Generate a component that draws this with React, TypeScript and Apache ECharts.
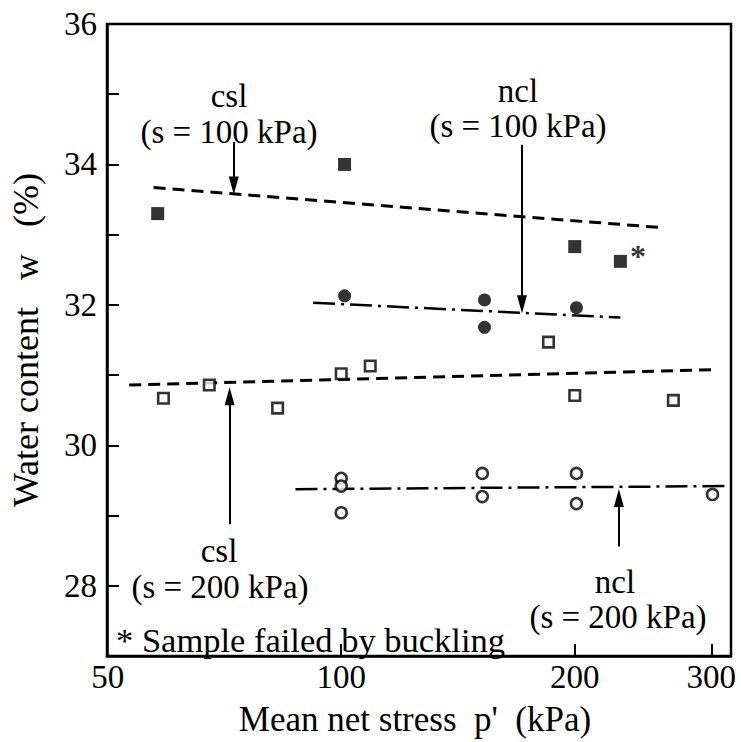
import React, { useEffect, useRef } from 'react';
import * as echarts from 'echarts';

// ---- axis ticks ----
const xLabelValues = [50, 100, 200, 300];
const xTickValues = [100, 200, 300];
const yEvenLabelsOnly = true;

// ---- measured points [p' (kPa), w (%)] ----
const filledSquares = [[58, 33.3], [101, 34.0], [200, 32.83], [229, 32.62]]; // s = 100 kPa, failure
const filledCircles = [[101, 32.13], [153, 32.07], [153, 31.68], [201, 31.96]]; // s = 100 kPa, NC
const openSquares = [[59, 30.67], [67.6, 30.86], [82.8, 30.53], [100, 31.02], [109, 31.13], [185, 31.47], [200, 30.71], [268, 30.64]]; // s = 200 kPa, failure
const openCircles = [[100, 29.53], [100, 29.42], [100, 29.04], [152, 29.6], [152, 29.27], [201, 29.6], [201, 29.17], [301, 29.3]]; // s = 200 kPa, NC

// index of the sample that failed by buckling (filled squares)
const bucklingIndex = 3;

// ---- fitted lines (end points) ----
const cslS100 = [[57.3, 33.67], [259, 33.1]];
const nclS100 = [[92, 32.03], [229, 31.82]];
const cslS200 = [[53.3, 30.86], [305, 31.08]];
const nclS200 = [[87.3, 29.375], [315, 29.42]];

// ---- annotation arrows: x, start w, arrow-head w ----
const arrows = [
  { x: 72.7, from: 34.32, to: 33.7 },
  { x: 171, from: 34.28, to: 32.01 },
  { x: 71.8, from: 28.875, to: 30.7 },
  { x: 228, from: 28.56, to: 29.25 },
];

const FONT = '"Liberation Serif", "Times New Roman", serif';

export default function App() {
  const ref = useRef<HTMLDivElement>(null);
  useEffect(() => {
    if (!ref.current) return;
    const chart = echarts.init(ref.current, null, { renderer: 'svg' });
    const dashed = { color: '#000', width: 3, type: [12, 7] as any };
    const dashDot = { color: '#000', width: 2.5, type: [22, 6, 3, 6] as any };
    const txt = (text: string, x: number, y: number, size = 33, align = 'center') => ({
      type: 'text',
      x,
      y,
      silent: true,
      style: {
        text,
        x: 0,
        y: 0,
        font: `${size}px ${FONT}`,
        fill: '#000',
        align,
        verticalAlign: 'middle',
        textAlign: align,
        textVerticalAlign: 'middle',
      },
    });
    chart.setOption({
      animation: false,
      backgroundColor: '#fff',
      grid: {
        left: 93,
        right: 10,
        top: 24,
        bottom: 69,
        show: true,
        borderColor: '#000',
        borderWidth: 2.5,
        backgroundColor: 'transparent',
      },
      xAxis: {
        type: 'log',
        logBase: 10,
        min: 49.9,
        max: 318,
        name: "Mean net stress  p'  (kPa)",
        nameLocation: 'middle',
        nameGap: 46,
        nameTextStyle: { fontFamily: FONT, fontSize: 35, color: '#000', padding: [0, 8, 0, 0] },
        axisLine: { show: true, lineStyle: { color: '#000', width: 2.5 } },
        axisTick: { show: true, inside: true, length: 12, customValues: xTickValues, lineStyle: { color: '#000', width: 2 } },
        axisLabel: {
          show: true,
          customValues: xLabelValues,
          margin: 4,
          fontFamily: FONT,
          fontSize: 33,
          color: '#000',
          formatter: (v: number) => String(Math.round(v)),
        },
        splitLine: { show: false },
        minorTick: { show: false },
      },
      yAxis: {
        type: 'value',
        min: 27,
        max: 36,
        interval: 1,
        name: 'Water content   w   (%)',
        nameLocation: 'middle',
        nameGap: 63,
        nameTextStyle: { fontFamily: FONT, fontSize: 36, color: '#000' },
        axisLine: { show: true, lineStyle: { color: '#000', width: 2.5 } },
        axisTick: { show: true, inside: true, length: 12, lineStyle: { color: '#000', width: 2 } },
        axisLabel: {
          show: true,
          margin: 10,
          fontFamily: FONT,
          fontSize: 33,
          color: '#000',
          formatter: (v: number) => (!yEvenLabelsOnly || v % 2 === 0 ? String(v) : ''),
        },
        splitLine: { show: false },
      },
      series: [
        { type: 'line', name: 'csl s=100', data: cslS100, showSymbol: false, lineStyle: dashed, silent: true },
        { type: 'line', name: 'ncl s=100', data: nclS100, showSymbol: false, lineStyle: dashDot, silent: true },
        { type: 'line', name: 'csl s=200', data: cslS200, showSymbol: false, lineStyle: dashed, silent: true },
        { type: 'line', name: 'ncl s=200', data: nclS200, showSymbol: false, lineStyle: dashDot, silent: true },
        {
          type: 'scatter',
          name: 'failure s=100',
          symbol: 'rect',
          symbolSize: 13,
          itemStyle: { color: '#000' },
          data: filledSquares.map((d, i) =>
            i === bucklingIndex
              ? {
                  value: d,
                  label: {
                    show: true,
                    formatter: '*',
                    position: 'right',
                    distance: 3,
                    offset: [0, -5],
                    fontFamily: FONT,
                    fontSize: 32,
                    fontWeight: 'bold',
                    color: '#000',
                  },
                }
              : { value: d }
          ),
          z: 5,
        },
        {
          type: 'scatter',
          name: 'ncl s=100 data',
          symbol: 'circle',
          symbolSize: 13,
          itemStyle: { color: '#000' },
          data: filledCircles,
          z: 5,
        },
        {
          type: 'scatter',
          name: 'failure s=200',
          symbol: 'rect',
          symbolSize: 10.5,
          itemStyle: { color: '#fff', borderColor: '#000', borderWidth: 2.6 },
          data: openSquares,
          z: 5,
        },
        {
          type: 'scatter',
          name: 'ncl s=200 data',
          symbol: 'circle',
          symbolSize: 11,
          itemStyle: { color: '#fff', borderColor: '#000', borderWidth: 2.6 },
          data: openCircles,
          z: 5,
        },
        {
          type: 'line',
          name: 'arrows',
          data: [],
          silent: true,
          markLine: {
            silent: true,
            animation: false,
            label: { show: false },
            lineStyle: { color: '#000', width: 2, type: 'solid' },
            symbol: ['none', 'triangle'],
            data: arrows.map((a) => [
              { coord: [a.x, a.from], symbol: 'none' },
              { coord: [a.x, a.to], symbol: 'triangle', symbolSize: [10, 18] },
            ]),
          },
        },
      ],
      graphic: [
        txt('csl', 229, 96),
        txt('(s = 100 kPa)', 229, 132),
        txt('ncl', 518, 91),
        txt('(s = 100 kPa)', 518, 126),
        txt('csl', 219, 551),
        txt('(s = 200 kPa)', 220, 587),
        txt('ncl', 615, 582),
        txt('(s = 200 kPa)', 618, 617),
        txt('* Sample failed by buckling', 116, 640, 34.5, 'left'),
      ],
    });
    return () => chart.dispose();
  }, []);
  return <div ref={ref} style={{ position: 'fixed', left: 0, top: 0, width: 741, height: 742 }} />;
}
